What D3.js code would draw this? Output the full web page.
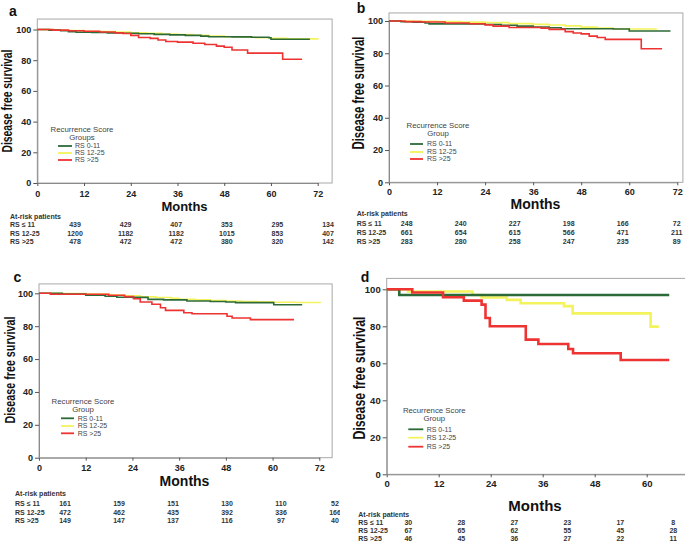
<!DOCTYPE html>
<html><head><meta charset="utf-8">
<script src="https://cdn.jsdelivr.net/npm/d3@7"></script>
<style>
body{margin:0;background:#fff}
svg{display:block}
text{font-family:"Liberation Sans",Arial,Helvetica,sans-serif}
</style>
</head><body>
<svg id="chart" width="685" height="541"></svg>
<script>
// ---------- DATA ----------
const groups = ["RS 0-11", "RS 12-25", "RS >25"];
const riskLabels = ["RS \u2264 11", "RS 12-25", "RS >25"];
const xTicks = [0, 12, 24, 36, 48, 60, 72];
const yTicks = [0, 20, 40, 60, 80, 100];
const colors = ["#2c6a38", "#f3f35c", "#ee3333"];
const panelLetters = ["a", "b", "c", "d"];
const legendTitles = [["Recurrence Score", "Groups"], ["Recurrence Score", "Group"], ["Recurrence Score", "Group"], ["Recurrence Score", "Group"]];

// Panel a (month, % disease free)
const aGreen = [[0,100],[3,99.6],[6,99.2],[8,98.6],[10,98.2],[14,98.0],[18,97.8],[22,97.6],[26,97.2],[30,96.8],[34,96.5],[38,96.2],[42,95.7],[44,95.3],[50,95.2],[55,95.0],[59.5,94.6],[60,93.6],[70,93.6]];
const aYellow = [[0,100],[4,99.7],[8,99.3],[12,98.9],[16,98.6],[20,98.3],[24,97.9],[28,97.5],[32,97.1],[36,96.7],[40,96.3],[44,95.8],[48,95.3],[52,95.0],[56,94.6],[60,94.2],[64,94.0],[68,93.9],[72.2,93.9]];
const aRed = [[0,100],[4,99.6],[8,99.2],[12,98.9],[16,98.4],[20,97.8],[22,97.4],[24,96.2],[26,94.8],[29,94.2],[31,93.2],[33,92.2],[36,91.8],[40,91.0],[43,90.2],[46,89.2],[48,88.4],[50,86.6],[54,84.6],[63,80.6],[68,80.6]];
const aRisk = [[439,429,407,353,295,134],[1200,1182,1182,1015,853,407],[478,472,472,380,320,142]];

// Panel b
const bGreen = [[0,100],[3,99.5],[6,99.2],[9,98.8],[10,98.2],[20,98.1],[24,97.8],[28,97.4],[32,96.8],[36,96.3],[40,95.8],[43,95.2],[56,95.0],[60,93.8],[70.3,93.8]];
const bYellow = [[0,100],[6,99.8],[12,99.6],[18,99.3],[24,99.0],[30,98.4],[36,97.9],[40,97.5],[44,97.0],[48,96.2],[52,95.6],[56,95.2],[60,95.0],[66.9,95.0]];
const bRed = [[0,100],[4,99.6],[8,99.4],[14,98.8],[20,98.3],[24,97.6],[26,96.8],[30,96.0],[38,95.6],[40,94.8],[44,93.4],[46,92.6],[48,92.0],[50,90.6],[52,89.8],[54,88.6],[63,82.8],[68.2,82.8]];
const bRisk = [[248,240,227,198,166,72],[661,654,615,566,471,211],[283,280,258,247,235,89]];

// Panel c
const cGreen = [[0,100],[6,99.6],[12,98.9],[17,98.2],[20,97.6],[24,97.5],[28,96.3],[32,96.0],[38,95.3],[44,95.0],[48,94.7],[50.5,94.3],[60.3,93.0],[67.6,93.0]];
const cYellow = [[0,100],[6,99.8],[12,99.5],[18,99.0],[22,98.5],[26,97.8],[30,97.4],[34,97.0],[36,96.4],[40,96.0],[44,95.6],[48,95.3],[52,95.0],[56,94.8],[60,94.6],[66,94.4],[72.3,94.3]];
const cRed = [[0,100],[2.9,99.4],[17.9,98.8],[22,98.0],[24.3,96.7],[26,94.7],[29,93.3],[31.2,91.2],[32.5,89.6],[37.2,88.2],[39.3,87.6],[48.3,86.0],[49.6,85.0],[54.3,84.0],[65.5,84.0]];
const cRisk = [[161,159,151,130,110,52],[472,462,435,392,336,166],[149,147,137,116,97,40]];

// Panel d
const dGreen = [[0,100],[2.9,96.9],[65.2,96.9]];
const dYellow = [[0,100],[4.9,98.8],[19.8,96.9],[21.9,95.6],[27.7,94.3],[30.9,92.5],[40.9,90.9],[42.9,87.0],[60.9,79.8],[62.8,79.8]];
const dRed = [[0,100],[5.9,98.3],[13,95.7],[17.8,93.9],[21.9,91.7],[22.8,84.5],[23.8,80.0],[32.1,72.8],[35,70.4],[41.9,67.7],[43,65.4],[54,61.8],[65.2,61.8]];
const dRisk = [[30,28,27,23,17,8],[67,65,62,55,45,28],[46,45,36,27,22,11]];

// ---------- LAYOUT ----------
const panels = [
  {series:[aGreen,aYellow,aRed], risk:aRisk, lw:1.6,
   x:[37.3,317.7], xMax:75.7, y:[183,29.5], yMax:106.8, tickFont:9, xLabDy:11,
   letter:[13,11], yTitle:[7.5,101,103,14], months:[184.5,206,13],
   riskX:10, riskTitleY:216.7, riskRows:[225,233.3,241.7], riskCols:[75,328],
   legTitle:[82,129.5,137.5], legLine:[58,72], legRows:[146,153,160], legText:75},
  {series:[bGreen,bYellow,bRed], risk:bRisk, lw:1.6,
   x:[389,677.3], xMax:73.4, y:[182.3,21], yMax:105, tickFont:9, xLabDy:10,
   letter:[361,8], yTitle:[358.5,93,113,16], months:[535.5,204,14],
   riskX:356.7, riskTitleY:214, riskRows:[223.3,232.7,242], riskCols:[406.7,676.7],
   legTitle:[438,125.5,133.5], legLine:[410,423], legRows:[144,152,159], legText:427},
  {series:[cGreen,cYellow,cRed], risk:cRisk, lw:1.6, clip:340,
   x:[39,319.3], xMax:75.3, y:[457.7,293.3], yMax:105.7, tickFont:9, xLabDy:10.6,
   letter:[17.5,277], yTitle:[10,370,107,15], months:[184.5,480.7,14],
   riskX:15, riskTitleY:493.3, riskRows:[503.3,512.3,521], riskCols:[65,335],
   legTitle:[83,401.5,409.5], legLine:[61,74], legRows:[418.3,426,433.3], legText:77.7},
  {series:[dGreen,dYellow,dRed], risk:dRisk, lw:2.6,
   x:[386.7,698.7], xMax:76, y:[474.3,289.3], yMax:105.9, tickFont:9.5, xLabDy:9,
   letter:[365,277], yTitle:[359,378,123,17], months:[535,506,15],
   riskX:358.3, riskTitleY:514.5, riskRows:[522.5,530.5,538.5], riskCols:[408.3,673.3],
   legTitle:[434.3,410.5,418.5], legLine:[408.3,423.3], legRows:[429.3,437.7,446.7], legText:426.7}
];

const svg = d3.select("#chart");
const defs = svg.append("defs");

panels.forEach((p, i) => {
  let g = svg.append("g");
  if (p.clip) {
    defs.append("clipPath").attr("id", "clip" + i)
      .append("rect").attr("x", 0).attr("y", 0).attr("width", p.clip).attr("height", 541);
    g.attr("clip-path", `url(#clip${i})`);
  }
  const x = d3.scaleLinear().domain([0, 72]).range(p.x);
  const y = d3.scaleLinear().domain([0, 100]).range(p.y);

  // frame
  g.append("rect")
    .attr("x", x(0)).attr("y", y(p.yMax))
    .attr("width", x(p.xMax) - x(0)).attr("height", y(0) - y(p.yMax))
    .attr("fill", "none").attr("stroke", "#a8a8a8").attr("stroke-width", 1);

  // axes (only ticks that fall inside the canvas)
  const visTicks = xTicks.filter(t => x(t) < 680);
  const xa = g.append("g").attr("transform", `translate(0,${y(0)})`)
    .call(d3.axisBottom(x).tickValues(visTicks).tickSize(3).tickPadding(3).tickSizeOuter(0));
  const ya = g.append("g").attr("transform", `translate(${x(0)},0)`)
    .call(d3.axisLeft(y).tickValues(yTicks).tickSize(4).tickPadding(2).tickSizeOuter(0));
  [xa, ya].forEach(a => {
    a.select(".domain").attr("stroke", "#8a8a8a");
    a.selectAll(".tick line").attr("stroke", "#555");
    a.selectAll("text").attr("font-size", p.tickFont).attr("font-weight", "bold")
      .attr("fill", "#222").attr("font-family", "Liberation Sans, Arial, sans-serif");
  });
  xa.selectAll("text").attr("y", p.xLabDy).attr("dy", "0.35em");

  // curves
  const line = d3.line().x(d => x(d[0])).y(d => y(d[1])).curve(d3.curveStepAfter);
  [1, 0, 2].forEach(k => {
    g.append("path").datum(p.series[k]).attr("d", line)
      .attr("fill", "none").attr("stroke", colors[k]).attr("stroke-width", p.lw)
      .attr("stroke-linejoin", "miter");
  });

  // panel letter
  g.append("text").attr("x", p.letter[0]).attr("y", p.letter[1]).attr("dy", "0.35em")
    .attr("text-anchor", "middle").attr("font-size", 14).attr("font-weight", "bold")
    .attr("fill", "#111").text(panelLetters[i]);

  // y title
  g.append("text")
    .attr("transform", `translate(${p.yTitle[0]},${p.yTitle[1]}) rotate(-90)`)
    .attr("text-anchor", "middle").attr("dy", "0.35em")
    .attr("font-size", p.yTitle[3]).attr("font-weight", "bold").attr("fill", "#111")
    .attr("textLength", p.yTitle[2]).attr("lengthAdjust", "spacingAndGlyphs")
    .text("Disease free survival");

  // x title
  g.append("text").attr("x", p.months[0]).attr("y", p.months[1]).attr("dy", "0.35em")
    .attr("text-anchor", "middle").attr("font-size", p.months[2]).attr("font-weight", "bold")
    .attr("fill", "#111").text("Months");

  // legend
  g.append("text").attr("x", p.legTitle[0]).attr("y", p.legTitle[1]).attr("dy", "0.35em")
    .attr("text-anchor", "middle").attr("font-size", 7.8).attr("fill", "#444").text(legendTitles[i][0]);
  g.append("text").attr("x", p.legTitle[0]).attr("y", p.legTitle[2]).attr("dy", "0.35em")
    .attr("text-anchor", "middle").attr("font-size", 7.8).attr("fill", "#444").text(legendTitles[i][1]);
  groups.forEach((name, k) => {
    g.append("line").attr("x1", p.legLine[0]).attr("x2", p.legLine[1])
      .attr("y1", p.legRows[k]).attr("y2", p.legRows[k])
      .attr("stroke", colors[k]).attr("stroke-width", 1.8);
    g.append("text").attr("x", p.legText).attr("y", p.legRows[k]).attr("dy", "0.35em")
      .attr("font-size", 7).attr("fill", "#444").text(name);
  });

  // at-risk table
  const cx = d3.scalePoint().domain(d3.range(6)).range(p.riskCols);
  g.append("text").attr("x", p.riskX).attr("y", p.riskTitleY).attr("dy", "0.35em")
    .attr("font-size", 7).attr("font-weight", "bold").attr("fill", "#333").text("At-risk patients");
  riskLabels.forEach((lab, r) => {
    g.append("text").attr("x", p.riskX).attr("y", p.riskRows[r]).attr("dy", "0.35em")
      .attr("font-size", 7).attr("font-weight", "bold").attr("fill", "#333").text(lab);
    p.risk[r].forEach((v, c) => {
      g.append("text").attr("x", cx(c)).attr("y", p.riskRows[r]).attr("dy", "0.35em")
        .attr("text-anchor", "middle").attr("font-size", 7).attr("font-weight", "bold")
        .attr("fill", "#333").text(v);
    });
  });
});
</script>
</body></html>
